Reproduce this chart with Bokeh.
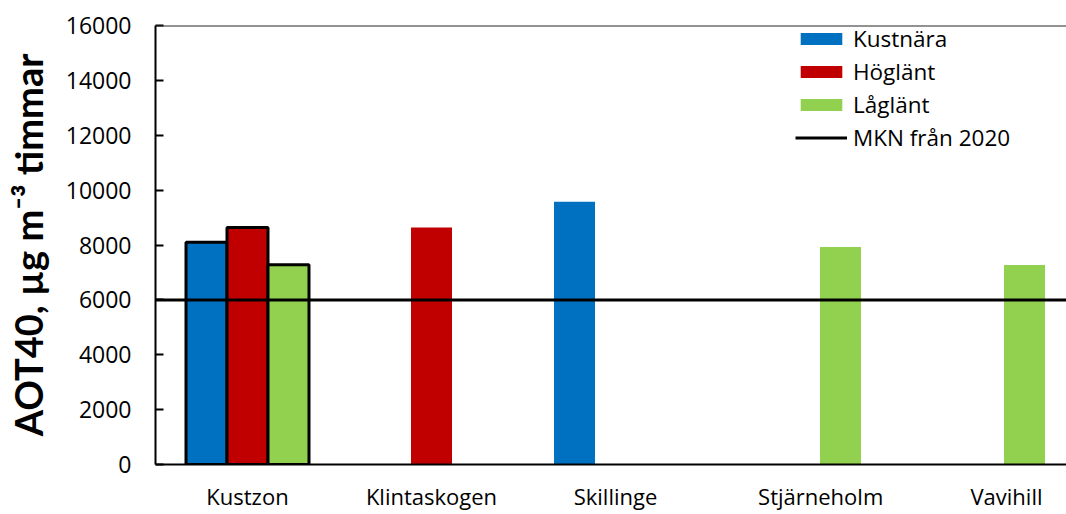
from bokeh.plotting import figure
from bokeh.models import Range1d, FixedTicker, Span, Legend, LegendItem, ColumnDataSource
from bokeh.embed import file_html
from bokeh.resources import INLINE

# ---- data ----
stations = ["Kustzon", "Klintaskogen", "Skillinge", "Stjärneholm", "Vavihill"]
series_names = ["Kustnära", "Höglänt", "Låglänt"]
kustnara = [8100, None, 9580, None, None]
hoglant = [8640, 8640, None, None, None]
laglant = [7280, None, None, 7930, 7270]
mkn_value = 6000
mkn_label = "MKN från 2020"
y_ticks = [0, 2000, 4000, 6000, 8000, 10000, 12000, 14000, 16000]
y_label = "AOT40, µg m⁻³ timmar"
outlined_stations = ["Kustzon"]

# ---- style / layout ----
colors = ["#0070C0", "#C00000", "#92D050"]
slot = 0.2228            # bar width in category units
x_end = 4.951
label_nudge = [0, 0, 0, 0.115, 0.125]
FONT = "Open Sans"

p = figure(width=1066, height=514, output_backend="svg", toolbar_location=None,
           x_range=Range1d(0, x_end), y_range=Range1d(0, 16000),
           min_border_left=155, min_border_right=0, min_border_top=25,
           min_border_bottom=50)
p.xgrid.visible = False
p.ygrid.visible = False
p.outline_line_color = None
p.background_fill_color = "white"
p.border_fill_color = "white"

all_series = [kustnara, hoglant, laglant]
plain_renderers = []
for k, vals in enumerate(all_series):
    offset = (k - 1) * slot
    for outlined in (False, True):
        xs, tops = [], []
        for i, (st, v) in enumerate(zip(stations, vals)):
            if v is None or ((st in outlined_stations) != outlined):
                continue
            xs.append(i + 0.5 + offset)
            tops.append(v)
        src = ColumnDataSource(dict(x=xs, top=tops))
        r = p.vbar(x="x", top="top", bottom=0, width=slot, source=src,
                   fill_color=colors[k],
                   line_color="black" if outlined else None,
                   line_width=3 if outlined else 0)
        if not outlined:
            plain_renderers.append(r)

# MKN line across the whole x range
mkn_r = p.line(x=[0, x_end], y=[mkn_value, mkn_value], line_color="black", line_width=3)
# top border
p.add_layout(Span(location=16000, dimension="width", line_color="#262626", line_width=2))

# axes
label_x = [i + 0.5 + label_nudge[i] for i in range(len(stations))]
xa = p.xaxis[0]
xa.ticker = FixedTicker(ticks=label_x)
xa.major_label_overrides = {x: s for x, s in zip(label_x, stations)}
xa.major_tick_in = 0
xa.major_tick_out = 0
xa.minor_tick_in = 0
xa.minor_tick_out = 0
xa.axis_line_color = "black"
xa.axis_line_width = 2
xa.major_label_standoff = 16
xa.major_label_text_font = FONT
xa.major_label_text_font_size = "22px"
xa.major_label_text_color = "black"

ya = p.yaxis[0]
ya.ticker = FixedTicker(ticks=y_ticks)
ya.major_tick_in = 8
ya.major_tick_out = 0
ya.minor_tick_in = 0
ya.minor_tick_out = 0
ya.major_tick_line_color = "black"
ya.major_tick_line_width = 2
ya.axis_line_color = "black"
ya.axis_line_width = 2
ya.major_label_standoff = 24
ya.major_label_text_font = FONT
ya.major_label_text_font_size = "23px"
ya.major_label_text_color = "black"
ya.axis_label = y_label
ya.axis_label_text_font = "Lato"
ya.axis_label_text_font_style = "bold"
ya.axis_label_text_font_size = "38px"
ya.axis_label_text_color = "black"
ya.axis_label_standoff = 12

items = [LegendItem(label=n, renderers=[r]) for n, r in zip(series_names, plain_renderers)]
items.append(LegendItem(label=mkn_label, renderers=[mkn_r]))
legend = Legend(items=items, location=(640, 311), padding=0, margin=0, spacing=2,
                glyph_width=52, glyph_height=15, label_standoff=6,
                label_text_font=FONT, label_text_font_size="22.5px",
                label_text_color="black",
                border_line_color=None, background_fill_alpha=0)
p.add_layout(legend)

open("out.html", "w").write(file_html(p, INLINE))
